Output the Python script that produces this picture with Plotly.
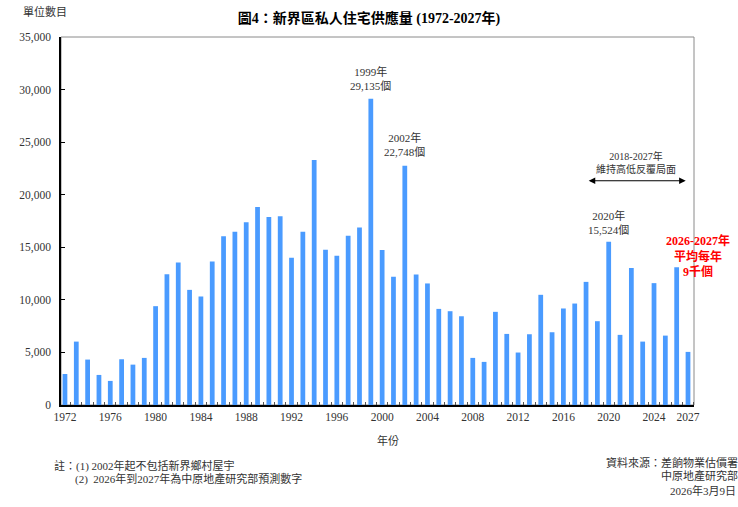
import plotly.graph_objects as go

years = list(range(1972, 2028))
supply = [2950, 6030, 4320, 2860, 2290, 4350, 3840, 4480, 9400, 12440,
          13560, 10950, 10320, 13650, 16060, 16480, 17370, 18820, 17870, 17940,
          14000, 16480, 23300, 14760, 14190, 16100, 16890, 29135, 14730, 12190,
          22748, 12410, 11560, 9140, 8920, 8440, 4480, 4100, 8860, 6760,
          4990, 6730, 10480, 6920, 9180, 9650, 11710, 7970, 15524, 6670,
          13020, 6030, 11590, 6600, 13110, 5050]
tick_years = [1972, 1976, 1980, 1984, 1988, 1992, 1996, 2000, 2004, 2008,
              2012, 2016, 2020, 2024, 2027]
y_ticks = [0, 5000, 10000, 15000, 20000, 25000, 30000, 35000]
y_tick_text = ["0", "5,000", "10,000", "15,000", "20,000", "25,000", "30,000", "35,000"]

FONT = "Liberation Serif, Noto Sans CJK TC, serif"
TXT = "#333333"

fig = go.Figure()
fig.add_trace(go.Bar(x=years, y=supply, width=0.42,
                     marker=dict(color="#4A9BFF", line=dict(width=0))))

def lbl(year, text, dy=4):
    idx = years.index(year)
    fig.add_annotation(x=year, y=supply[idx], text=text, showarrow=False,
                       xref="x", yref="y", yanchor="bottom", yshift=dy,
                       font=dict(family=FONT, size=11, color=TXT))

lbl(1999, "1999年<br>29,135個", 5)
lbl(2002, "2002年<br>22,748個", 6)
lbl(2020, "2020年<br>15,524個", 4)

# range arrow
fig.add_annotation(x=2026.8, y=21330, ax=2018.1, ay=21330, xref="x", yref="y",
                   axref="x", ayref="y", text="", showarrow=True,
                   arrowhead=2, startarrowhead=2, arrowside="end+start",
                   arrowsize=1.1, arrowwidth=1.2, arrowcolor="#000000")
fig.add_annotation(x=2022.45, y=21330, xref="x", yref="y", yanchor="bottom", yshift=4,
                   text="2018-2027年<br>維持高低反覆局面", showarrow=False,
                   font=dict(family=FONT, size=10, color=TXT))

fig.add_annotation(x=1.006, y=0.405, xref="paper", yref="paper",
                   text="<b>2026-2027年<br>平均每年<br>9千個</b>", showarrow=False,
                   xanchor="center", yanchor="middle",
                   font=dict(family=FONT, size=12, color="#FF0000"))

W, H = 738, 507
L, R, T, B = 61, 44, 37, 102
pw, ph = W - L - R, H - T - B

def px(x, y):
    return (x - L) / pw, (H - B - y) / ph

def note(x, y, text, xanchor="left", size=11):
    xp, yp = px(x, y)
    fig.add_annotation(x=xp, y=yp, xref="paper", yref="paper", text=text,
                       showarrow=False, xanchor=xanchor, yanchor="middle",
                       font=dict(family=FONT, size=size, color=TXT))

note(21, 11, "單位數目")
note(388, 440, "年份", xanchor="center")
note(52, 466, "註：(1) 2002年起不包括新界鄉村屋宇")
note(73, 479, "(2)  2026年到2027年為中原地產研究部預測數字")
note(740, 462, "資料來源：差餉物業估價署", xanchor="right")
note(740, 476, "中原地產研究部", xanchor="right")
note(738, 490, "2026年3月9日", xanchor="right")

fig.add_shape(type="rect", xref="paper", yref="paper", x0=0, y0=0, x1=1, y1=1,
              line=dict(color="#8a8a8a", width=1), layer="below")

fig.update_layout(
    width=W, height=H,
    margin=dict(l=L, r=R, t=T, b=B),
    paper_bgcolor="white", plot_bgcolor="white",
    showlegend=False,
    title=dict(text="<b>圖4：新界區私人住宅供應量 (1972-2027年)</b>",
               x=0.5, xanchor="center", y=1 - 18 / H, yanchor="middle",
               font=dict(family=FONT, size=14, color="#000000")),
    xaxis=dict(range=[1971.65, 2027.53], tickmode="array", tickvals=tick_years,
               ticktext=[str(v) for v in tick_years], ticks="",
               showgrid=False, zeroline=False, showline=True,
               linecolor="#000000", linewidth=1.5,
               tickfont=dict(family=FONT, size=11.5, color=TXT),
               minor=dict(tick0=1971.5, dtick=1, ticks="inside", ticklen=3,
                          tickcolor="#555555", showgrid=False)),
    yaxis=dict(range=[0, 35000], tickmode="array", tickvals=y_ticks,
               ticktext=y_tick_text, ticks="inside", ticklen=4,
               tickcolor="#000000", showgrid=False, zeroline=False,
               showline=True, linecolor="#000000", linewidth=1.5,
               ticklabelstandoff=6,
               tickfont=dict(family=FONT, size=11.5, color=TXT)),
)

fig.write_html("out.html")
